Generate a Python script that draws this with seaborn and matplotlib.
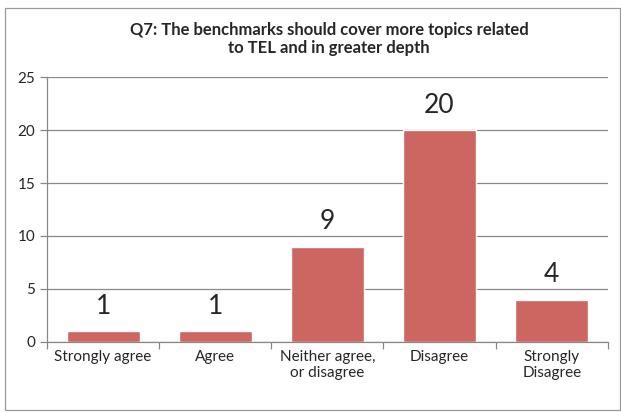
import matplotlib
matplotlib.use("Agg")
import matplotlib.pyplot as plt
import seaborn as sns
import pandas as pd
from matplotlib.patches import Rectangle

# data
categories = ["Strongly agree", "Agree", "Neither agree,\nor disagree", "Disagree", "Strongly\nDisagree"]
counts = [1, 1, 9, 20, 4]
yticks = [0, 5, 10, 15, 20, 25]
title = "Q7: The benchmarks should cover more topics related\nto TEL and in greater depth"

df = pd.DataFrame({"answer": categories, "count": counts})

sns.set_style("white")
plt.rcParams["font.family"] = ["Lato", "DejaVu Sans"]

fig = plt.figure(figsize=(6.21, 4.12), dpi=100)
ax = fig.add_axes([0.0757, 0.170, 0.903, 0.643])

sns.barplot(data=df, x="answer", y="count", color="#CD6661", saturation=1,
            width=0.65, ax=ax)

ax.set_ylim(0, 25)
ax.set_xlim(-0.5, len(categories) - 0.5)
ax.set_yticks(yticks)
ax.yaxis.grid(True, color="#888888", linewidth=0.9)
ax.set_axisbelow(True)
ax.set_xlabel("")
ax.set_ylabel("")

for s in ["top", "right"]:
    ax.spines[s].set_visible(False)
for s in ["left", "bottom"]:
    ax.spines[s].set_color("#888888")
    ax.spines[s].set_linewidth(0.9)

# tick marks between categories
ax.set_xticks([i - 0.5 for i in range(len(categories) + 1)], minor=True)
ax.tick_params(axis="x", which="major", bottom=False, length=0, labelsize=11, pad=6)
ax.tick_params(axis="x", which="minor", bottom=True, length=5, width=0.9,
               color="#888888", direction="out")
ax.tick_params(axis="y", left=True, length=5, width=0.9, color="#888888",
               direction="out", labelsize=11)
ax.set_xticklabels(categories, linespacing=1.15)

for container in ax.containers:
    ax.bar_label(container, labels=[str(v) for v in counts], padding=9, fontsize=19)

fig.text(0.53, 0.905, title, ha="center", va="center", fontsize=12,
         fontweight="bold", linespacing=1.2)

fig.patches.append(Rectangle((0.008, 0.005), 0.99, 0.975, transform=fig.transFigure,
                             fill=False, edgecolor="#999999", linewidth=0.9))

fig.savefig("out.png", dpi=100)
